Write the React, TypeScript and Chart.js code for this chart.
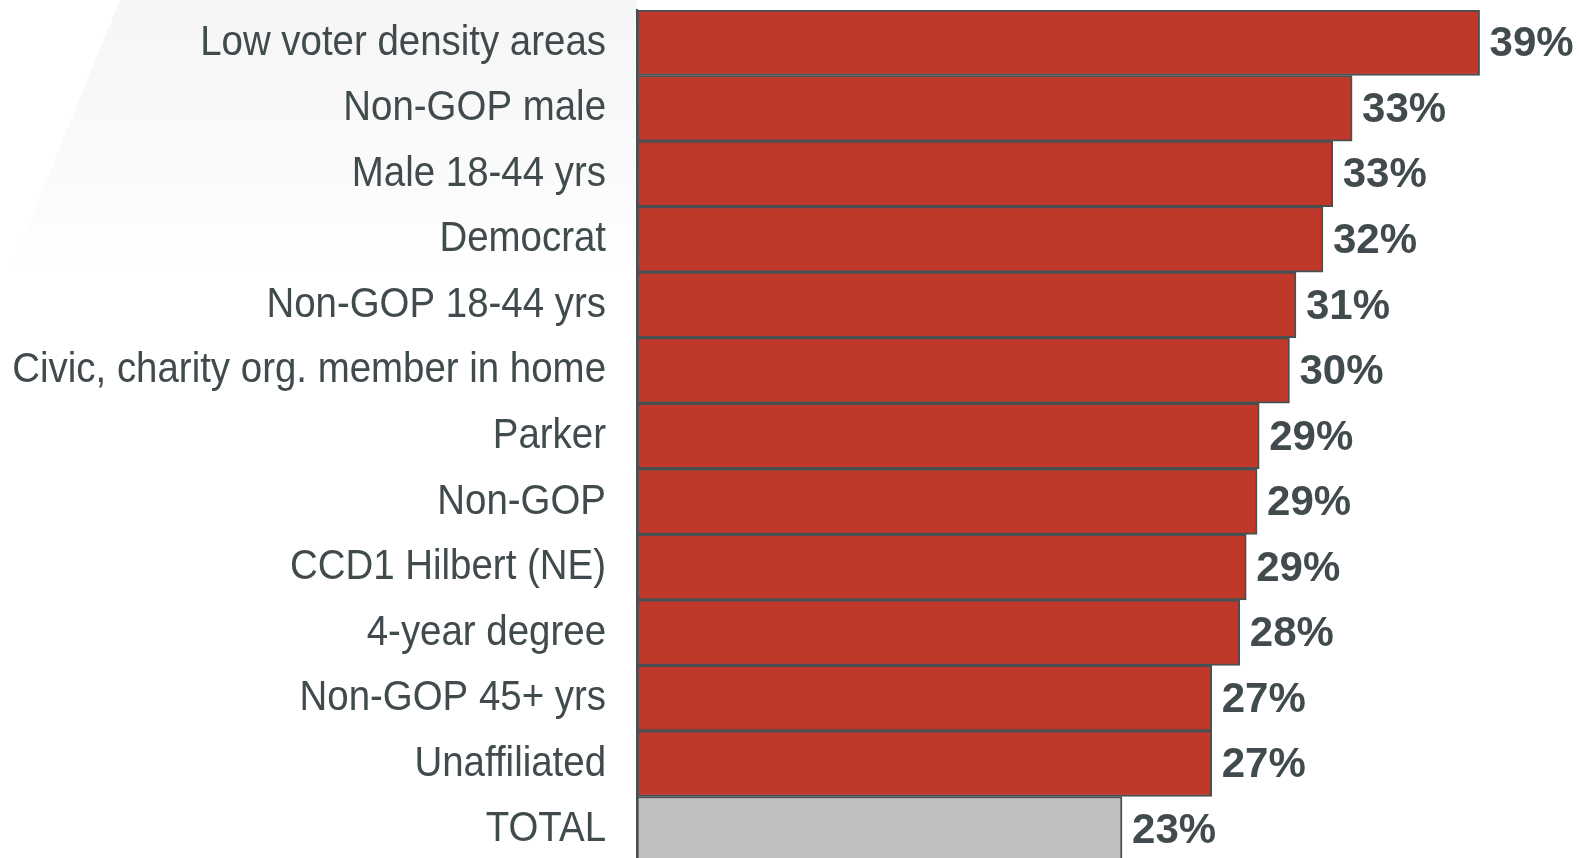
import React, { useEffect, useRef } from "react";
import { Chart, registerables } from "chart.js";

Chart.register(...registerables);

const categories = [
  "Low voter density areas",
  "Non-GOP male",
  "Male 18-44 yrs",
  "Democrat",
  "Non-GOP 18-44 yrs",
  "Civic, charity org. member in home",
  "Parker",
  "Non-GOP",
  "CCD1 Hilbert (NE)",
  "4-year degree",
  "Non-GOP 45+ yrs",
  "Unaffiliated",
  "TOTAL",
];

const values = [39.0, 33.1, 32.2, 31.75, 30.5, 30.2, 28.8, 28.7, 28.2, 27.9, 26.6, 26.6, 22.45];

const valueLabels = ["39%", "33%", "33%", "32%", "31%", "30%", "29%", "29%", "29%", "28%", "27%", "27%", "23%"];

const RED = "#C0382A";
const GREY_BAR = "#C0C0C0";
const TEXT = "#414B4D";
const BORDER = "#4A5052";

const barColors = categories.map((c) => (c === "TOTAL" ? GREY_BAR : RED));

const valueLabelPlugin = {
  id: "valueLabels",
  afterDatasetsDraw(chart: any) {
    const { ctx } = chart;
    const meta = chart.getDatasetMeta(0);
    ctx.save();
    ctx.font = "bold 42px 'Liberation Sans', Arial, sans-serif";
    ctx.fillStyle = TEXT;
    ctx.textAlign = "left";
    ctx.textBaseline = "middle";
    meta.data.forEach((bar: any, i: number) => {
      ctx.fillText(valueLabels[i], bar.x + 10, bar.y + 2);
    });
    ctx.restore();
  },
};

// Draws the y-axis category labels in a narrowed sans (Arial Narrow look),
// at the positions given by the y scale's own ticks.
const narrowLabelsPlugin = {
  id: "narrowLabels",
  afterDraw(chart: any) {
    const { ctx } = chart;
    const scale = chart.scales.y;
    const labels = chart.data.labels as string[];
    ctx.save();
    ctx.font = "42px 'Liberation Sans', Arial, sans-serif";
    ctx.fillStyle = TEXT;
    ctx.textAlign = "right";
    ctx.textBaseline = "alphabetic";
    scale.ticks.forEach((_t: any, i: number) => {
      const y = scale.getPixelForTick(i);
      ctx.save();
      ctx.translate(scale.right - 31, y + 12);
      ctx.scale(0.915, 1);
      ctx.fillText(labels[i], 0, 0);
      ctx.restore();
    });
    ctx.restore();
  },
};

export default function App() {
  const canvasRef = useRef<HTMLCanvasElement>(null);

  useEffect(() => {
    if (!canvasRef.current) return;
    const chart = new Chart(canvasRef.current, {
      type: "bar",
      data: {
        labels: categories,
        datasets: [
          {
            data: values,
            backgroundColor: barColors,
            borderColor: BORDER,
            borderWidth: 2,
            borderSkipped: false,
            categoryPercentage: 1,
            barPercentage: 1,
          },
        ],
      },
      options: {
        indexAxis: "y",
        animation: false,
        responsive: true,
        maintainAspectRatio: false,
        layout: { padding: { top: 10, right: 13, bottom: 0, left: 0 } },
        plugins: {
          legend: { display: false },
          tooltip: { enabled: false },
        },
        scales: {
          x: {
            display: false,
            min: 0,
            max: 43,
          },
          y: {
            afterFit: (axis: any) => {
              axis.width = 637;
              axis.paddingTop = 0;
              axis.paddingBottom = 0;
            },
            grid: { display: false, drawTicks: false },
            border: { display: true, color: BORDER, width: 2 },
            ticks: {
              color: "rgba(0,0,0,0)",
              padding: 31,
              autoSkip: false,
              font: { family: "'Liberation Sans', Arial, sans-serif", size: 20 },
            },
          },
        },
      },
      plugins: [valueLabelPlugin, narrowLabelsPlugin],
    });
    return () => chart.destroy();
  }, []);

  return (
    <div style={{ position: "fixed", left: 0, top: 0, width: 1579, height: 858, overflow: "hidden", background: "#fff" }}>
      <div
        style={{
          position: "absolute",
          left: 0,
          top: 0,
          width: 637,
          height: 270,
          background: "linear-gradient(to bottom, #f6f6f6 0%, #fafafa 60%, #ffffff 100%)",
          clipPath: "polygon(120px 0, 637px 0, 637px 270px, 10px 270px)",
        }}
      />
      <div style={{ position: "relative", width: 1579, height: 862 }}>
        <canvas ref={canvasRef} />
      </div>
    </div>
  );
}
